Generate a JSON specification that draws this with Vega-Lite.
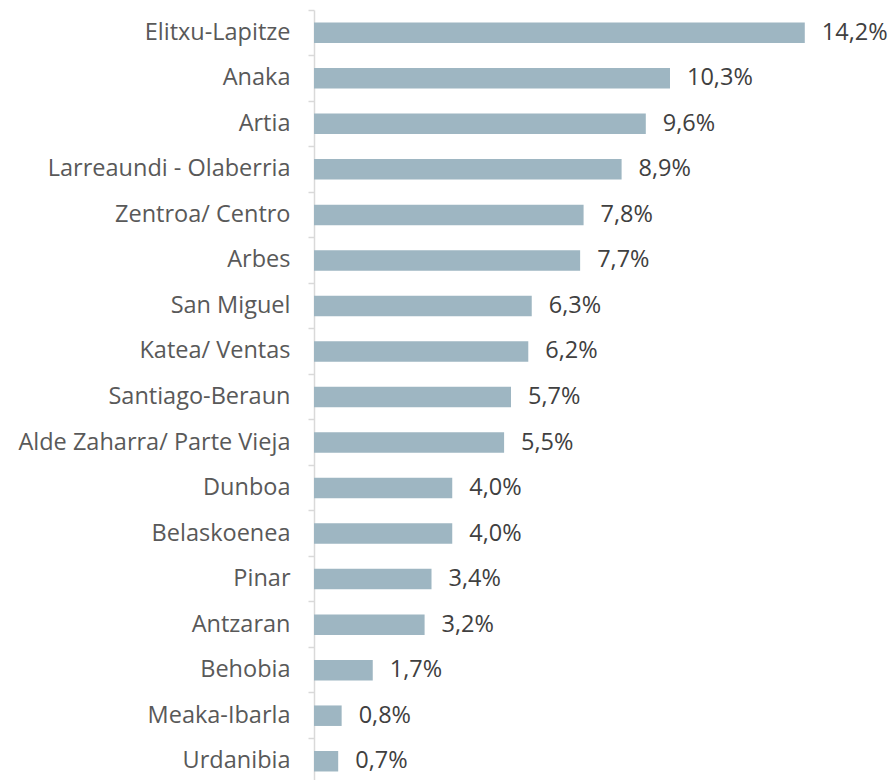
{
  "$schema": "https://vega.github.io/schema/vega-lite/v6.json",
  "width": 553,
  "height": 774,
  "padding": {"left": 314, "top": 10, "right": 24, "bottom": -4},
  "autosize": {"type": "none"},
  "config": {
    "view": {"stroke": null},
    "locale": {"number": {"decimal": ",", "thousands": ".", "grouping": [3], "currency": ["", " €"]}},
    "font": "Open Sans"
  },
  "data": {
    "values": [
      {"barrio": "Elitxu-Lapitze", "pct": 0.142},
      {"barrio": "Anaka", "pct": 0.103},
      {"barrio": "Artia", "pct": 0.096},
      {"barrio": "Larreaundi - Olaberria", "pct": 0.089},
      {"barrio": "Zentroa/ Centro", "pct": 0.078},
      {"barrio": "Arbes", "pct": 0.077},
      {"barrio": "San Miguel", "pct": 0.063},
      {"barrio": "Katea/ Ventas", "pct": 0.062},
      {"barrio": "Santiago-Beraun", "pct": 0.057},
      {"barrio": "Alde Zaharra/ Parte Vieja", "pct": 0.055},
      {"barrio": "Dunboa", "pct": 0.040},
      {"barrio": "Belaskoenea", "pct": 0.040},
      {"barrio": "Pinar", "pct": 0.034},
      {"barrio": "Antzaran", "pct": 0.032},
      {"barrio": "Behobia", "pct": 0.017},
      {"barrio": "Meaka-Ibarla", "pct": 0.008},
      {"barrio": "Urdanibia", "pct": 0.007}
    ]
  },
  "encoding": {
    "y": {
      "field": "barrio", "type": "nominal", "sort": null,
      "scale": {"paddingInner": 0, "paddingOuter": 0},
      "axis": {
        "title": null, "bandPosition": 0,
        "domainColor": "#D9D9D9", "domainWidth": 1.5,
        "tickColor": "#D9D9D9", "tickSize": 6, "tickWidth": 1.5,
        "labelFontSize": 23.5, "labelColor": "#595959", "labelPadding": 18,
        "labelFont": "Open Sans", "labelLimit": 0
      }
    },
    "x": {
      "field": "pct", "type": "quantitative",
      "scale": {"domain": [0, 0.16], "nice": false},
      "axis": null
    }
  },
  "layer": [
    {"mark": {"type": "bar", "size": 20.5, "color": "#9EB6C2"}},
    {
      "mark": {"type": "text", "align": "left", "baseline": "middle", "dx": 17, "fontSize": 23.5, "color": "#404040", "font": "Open Sans", "clip": false},
      "encoding": {"text": {"field": "pct", "type": "quantitative", "format": ".1%"}}
    }
  ]
}
